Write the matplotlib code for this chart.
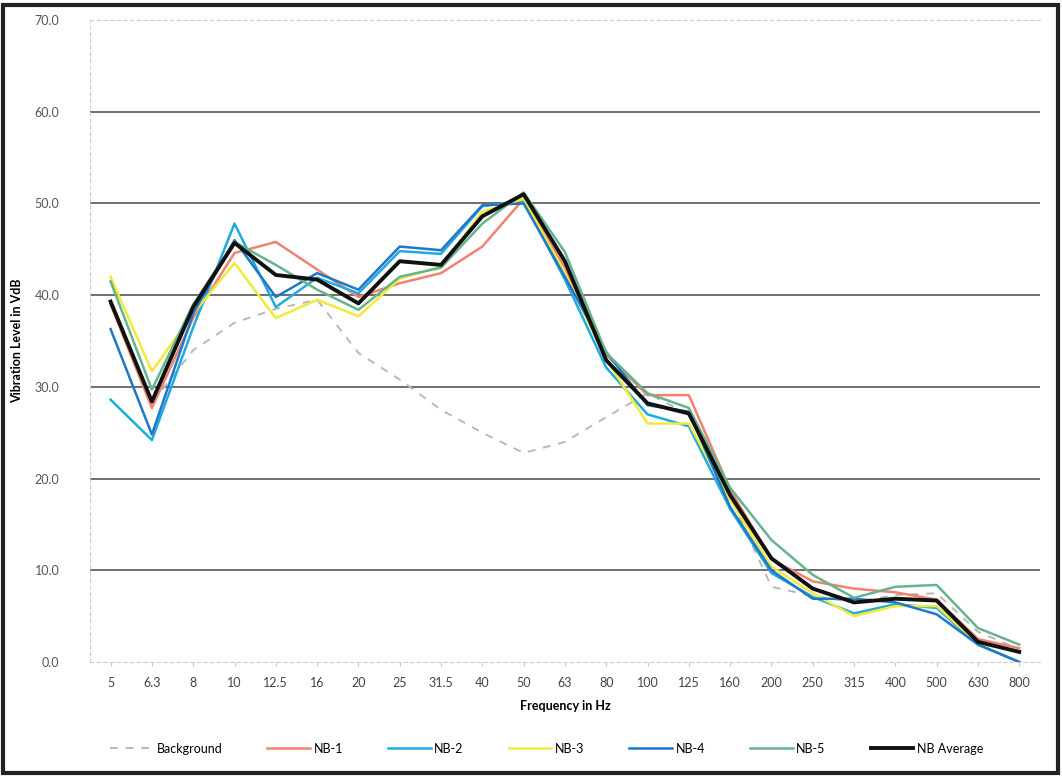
import matplotlib.pyplot as plt
from matplotlib.patches import Rectangle

plt.rcParams['font.family'] = ['Lato', 'DejaVu Sans']

freqs = ['5', '6.3', '8', '10', '12.5', '16', '20', '25', '31.5', '40', '50', '63',
         '80', '100', '125', '160', '200', '250', '315', '400', '500', '630', '800']

background = [39.2, 28.3, 34.0, 37.0, 38.5, 39.5, 33.7, 30.8, 27.5, 25.0, 22.8, 24.0,
              26.7, 29.3, 27.0, 18.0, 8.2, 7.2, 6.5, 7.3, 7.5, 3.3, 1.4]
nb1 = [39.0, 27.7, 37.5, 44.6, 45.8, 42.8, 39.8, 41.3, 42.4, 45.3, 50.5, 43.0,
       33.5, 29.1, 29.1, 18.8, 11.2, 8.8, 8.0, 7.6, 6.8, 2.5, 1.5]
nb2 = [28.6, 24.2, 36.5, 47.8, 38.7, 41.9, 40.2, 44.8, 44.5, 49.7, 50.3, 41.7,
       32.1, 27.0, 25.7, 16.7, 9.7, 7.1, 5.3, 6.3, 5.9, 1.9, 0.0]
nb3 = [42.0, 31.7, 38.0, 43.5, 37.5, 39.5, 37.7, 41.8, 43.1, 49.1, 50.5, 42.4,
       33.0, 26.0, 26.0, 17.7, 10.4, 7.5, 5.0, 6.1, 6.1, 2.0, 1.2]
nb4 = [36.3, 24.8, 38.0, 46.0, 39.8, 42.4, 40.6, 45.3, 44.9, 49.8, 50.0, 42.0,
       33.8, 28.0, 27.3, 16.9, 10.0, 6.9, 6.9, 6.5, 5.2, 1.9, 0.0]
nb5 = [41.5, 29.7, 39.0, 45.8, 43.3, 40.6, 38.4, 42.0, 43.0, 47.8, 51.2, 44.7,
       33.7, 29.3, 27.7, 19.0, 13.3, 9.5, 7.0, 8.2, 8.4, 3.7, 1.9]
nb_avg = [39.3, 28.4, 38.7, 45.7, 42.2, 41.7, 39.1, 43.7, 43.3, 48.6, 51.0, 43.7,
          32.9, 28.2, 27.1, 18.2, 11.3, 8.0, 6.5, 6.9, 6.7, 2.2, 1.1]

fig = plt.figure(figsize=(10.62, 7.76), dpi=100)
ax = fig.add_axes([0.0847, 0.1469, 0.8945, 0.8273])

x = range(len(freqs))
ax.plot(x, background, color='#b8b8b8', lw=1.4, ls=(0, (4, 4)), label='Background')
ax.plot(x, nb1, color='#f08272', lw=1.8, label='NB-1')
ax.plot(x, nb2, color='#20aae2', lw=1.8, label='NB-2')
ax.plot(x, nb3, color='#f2ea3a', lw=1.8, label='NB-3')
ax.plot(x, nb4, color='#1f78c8', lw=1.8, label='NB-4')
ax.plot(x, nb5, color='#66b48e', lw=1.8, label='NB-5')
ax.plot(x, nb_avg, color='#111111', lw=2.8, label='NB Average')

ax.set_xlim(-0.5, len(freqs) - 0.5)
ax.set_ylim(0, 70)
ax.set_xticks(list(x))
ax.set_xticklabels(freqs)
ax.set_yticks(range(0, 71, 10))
ax.set_yticklabels([f'{v:.1f}' for v in range(0, 71, 10)])
ax.tick_params(axis='y', length=0, pad=22, labelsize=9, labelcolor='#555555')
ax.tick_params(axis='x', length=3, color='#cccccc', pad=8, labelsize=9, labelcolor='#444444')

# solid gridlines inside, faint dashed lines at the bottom and top
for v in range(10, 70, 10):
    ax.axhline(v, color='#555555', lw=1.2, zorder=0)
for s in ['top', 'bottom', 'left']:
    ax.spines[s].set_color('#cccccc')
    ax.spines[s].set_linestyle((0, (3, 3)))
    ax.spines[s].set_linewidth(0.8)
ax.spines['right'].set_visible(False)

ax.set_xlabel('Frequency in Hz', fontsize=9, fontweight='bold', labelpad=8)
ax.set_ylabel('Vibration Level in VdB', fontsize=9, fontweight='bold', labelpad=8)

fig.legend(loc='center', bbox_to_anchor=(0.515, 0.035), ncol=7, frameon=False,
           fontsize=9, handlelength=3.4, columnspacing=3.6, handletextpad=0.3)

# frame around the whole page
fig.patches.append(Rectangle((0.003, 0.004), 0.993, 0.99, transform=fig.transFigure,
                             fill=False, edgecolor='#222222', lw=3))

fig.savefig('out.png', dpi=100)
